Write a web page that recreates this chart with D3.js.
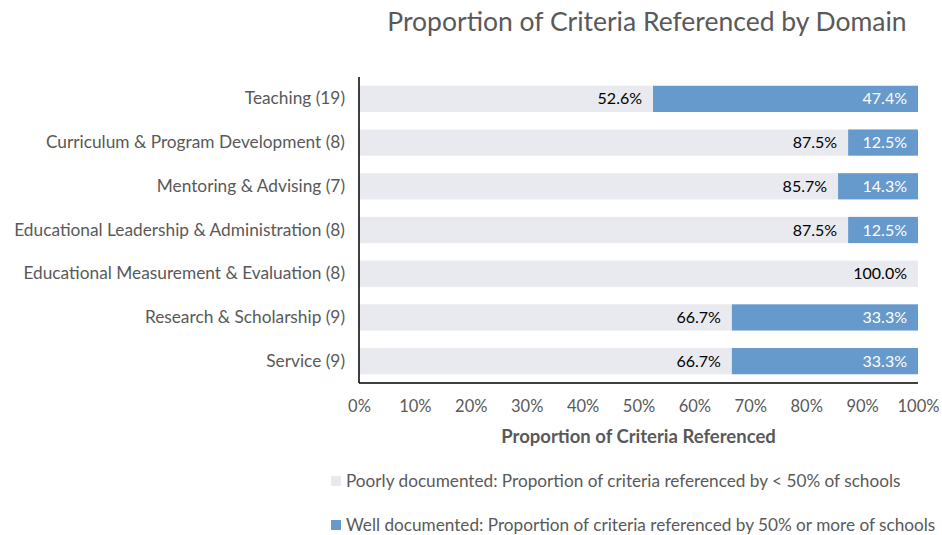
<!DOCTYPE html>
<html>
<head>
<meta charset="utf-8">
<script src="https://cdn.jsdelivr.net/npm/d3@7"></script>
<style>
  html, body { margin: 0; padding: 0; background: #fff; }
  svg { display: block; font-family: Lato, "Open Sans", sans-serif; }
</style>
</head>
<body>
<svg id="chart" width="942" height="535"></svg>
<script>
// Domains (with number of criteria) and share of criteria in each documentation group
const domains = [
  "Teaching (19)",
  "Curriculum & Program Development (8)",
  "Mentoring & Advising (7)",
  "Educational Leadership & Administration (8)",
  "Educational Measurement & Evaluation (8)",
  "Research & Scholarship (9)",
  "Service (9)"
];
const poorlyDocumented = [52.6, 87.5, 85.7, 87.5, 100.0, 66.7, 66.7];
const wellDocumented   = [47.4, 12.5, 14.3, 12.5, 0.0, 33.3, 33.3];
const xTicks = [0, 10, 20, 30, 40, 50, 60, 70, 80, 90, 100];
const seriesNames = [
  "Poorly documented: Proportion of criteria referenced by < 50% of schools",
  "Well documented: Proportion of criteria referenced by 50% or more of schools"
];
const seriesColors = ["#E9EAEF", "#6699CC"];

const svg = d3.select("#chart");
const plot = { left: 359, right: 918, top: 77, bottom: 383 };

const x = d3.scaleLinear().domain([0, 100]).range([plot.left, plot.right]);
const y = d3.scaleBand().domain(domains).range([plot.top, plot.bottom]).paddingInner(0.4).paddingOuter(0.2);

// Title
svg.append("text")
  .attr("x", 647).attr("y", 31)
  .attr("text-anchor", "middle")
  .attr("font-size", 26.5)
  .attr("fill", "#595959")
  .text("Proportion of Criteria Referenced by Domain");

// Stacked bars
const rows = domains.map((d, i) => ({ domain: d, poor: poorlyDocumented[i], well: wellDocumented[i] }));
const g = svg.append("g");

g.selectAll("rect.poor").data(rows).join("rect")
  .attr("class", "poor")
  .attr("x", x(0)).attr("y", d => y(d.domain))
  .attr("width", d => x(d.poor) - x(0))
  .attr("height", y.bandwidth())
  .attr("fill", seriesColors[0]);

g.selectAll("rect.well").data(rows.filter(d => d.well > 0)).join("rect")
  .attr("class", "well")
  .attr("x", d => x(d.poor)).attr("y", d => y(d.domain))
  .attr("width", d => x(d.poor + d.well) - x(d.poor))
  .attr("height", y.bandwidth())
  .attr("fill", seriesColors[1]);

// Value labels, inside the end of each segment
g.selectAll("text.poorLbl").data(rows).join("text")
  .attr("class", "poorLbl")
  .attr("x", d => x(d.poor) - 11)
  .attr("y", d => y(d.domain) + y.bandwidth() / 2)
  .attr("dy", "0.35em")
  .attr("text-anchor", "end")
  .attr("font-size", 16)
  .attr("fill", "#000")
  .text(d => d.poor.toFixed(1) + "%");

g.selectAll("text.wellLbl").data(rows.filter(d => d.well > 0)).join("text")
  .attr("class", "wellLbl")
  .attr("x", d => x(d.poor + d.well) - 11)
  .attr("y", d => y(d.domain) + y.bandwidth() / 2)
  .attr("dy", "0.35em")
  .attr("text-anchor", "end")
  .attr("font-size", 16)
  .attr("fill", "#fff")
  .text(d => d.well.toFixed(1) + "%");

// Category axis
const yAxis = svg.append("g")
  .attr("transform", `translate(${plot.left},0)`)
  .call(d3.axisLeft(y).tickSize(0).tickPadding(14));
yAxis.select(".domain").attr("stroke", "#000").attr("stroke-width", 1.5)
  .attr("d", `M0,${plot.top}V${plot.bottom}`);
yAxis.selectAll("text").attr("font-size", 17.3).attr("fill", "#595959")
  .attr("font-family", "Lato, 'Open Sans', sans-serif");

// Value axis
const xAxis = svg.append("g")
  .attr("transform", `translate(0,${plot.bottom})`)
  .call(d3.axisBottom(x).tickValues(xTicks).tickSize(0).tickPadding(17).tickFormat(d => d + "%"));
xAxis.select(".domain").attr("stroke", "#000").attr("stroke-width", 1.5)
  .attr("d", `M${plot.left},0H${plot.right}`);
xAxis.selectAll("text").attr("font-size", 16.5).attr("fill", "#595959")
  .attr("font-family", "Lato, 'Open Sans', sans-serif");

// Axis title
svg.append("text")
  .attr("x", x(50)).attr("y", 443)
  .attr("text-anchor", "middle")
  .attr("font-size", 18.5).attr("font-weight", "bold")
  .attr("fill", "#595959")
  .text("Proportion of Criteria Referenced");

// Legend
const legend = svg.append("g");
const legendRows = seriesNames.map((n, i) => ({ name: n, color: seriesColors[i], y: 481 + i * 44 }));
legend.selectAll("rect").data(legendRows).join("rect")
  .attr("x", 331).attr("y", d => d.y - 5)
  .attr("width", 10).attr("height", 10)
  .attr("fill", d => d.color);
legend.selectAll("text").data(legendRows).join("text")
  .attr("x", 346).attr("y", d => d.y)
  .attr("dy", "0.35em")
  .attr("font-size", 17.2)
  .attr("fill", "#595959")
  .text(d => d.name);
</script>
</body>
</html>
